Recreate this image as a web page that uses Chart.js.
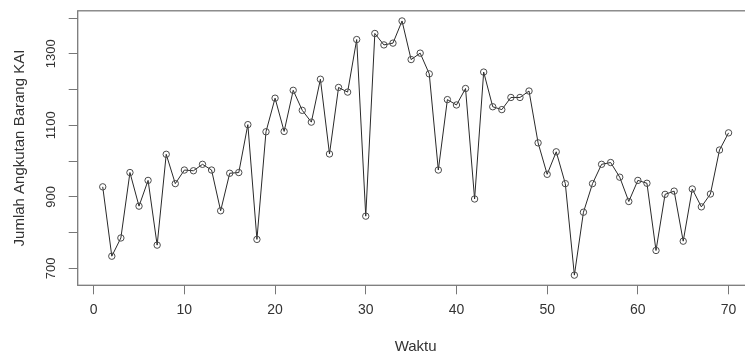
<!DOCTYPE html>
<html>
<head>
<meta charset="utf-8">
<script src="https://cdn.jsdelivr.net/npm/chart.js@4.4.1/dist/chart.umd.min.js"></script>
<style>
  html, body { margin: 0; padding: 0; background: #ffffff; overflow: hidden; }
  #wrap { width: 760px; height: 358px; }
</style>
</head>
<body>
<div id="wrap"><canvas id="c" width="760" height="358"></canvas></div>
<script>
const waktu = [1,2,3,4,5,6,7,8,9,10,11,12,13,14,15,16,17,18,19,20,
  21,22,23,24,25,26,27,28,29,30,31,32,33,34,35,36,37,38,39,40,
  41,42,43,44,45,46,47,48,49,50,51,52,53,54,55,56,57,58,59,60,
  61,62,63,64,65,66,67,68,69,70];
const jumlahAngkutan = [928,734,785,968,874,946,765,1019,937,975,
  973,991,975,861,966,968,1102,781,1082,1176,
  1083,1198,1142,1109,1229,1020,1206,1193,1340,846,
  1357,1325,1330,1392,1284,1302,1244,975,1172,1157,
  1203,894,1249,1152,1144,1178,1178,1196,1051,963,
  1026,937,681,857,937,991,996,955,887,946,
  938,750,907,916,776,922,872,908,1031,1079];
const xTickValues = [0,10,20,30,40,50,60,70];
const xTickLabels = ['0','10','20','30','40','50','60','70'];
const yTickValues = [700,800,900,1000,1100,1200,1300,1400];
const yTickLabels = ['700','','900','','1100','','1300',''];
const xTitle = 'Waktu';
const yTitle = 'Jumlah Angkutan Barang KAI';

const points = waktu.map((w, i) => ({x: w, y: jumlahAngkutan[i]}));

const boxPlugin = {
  id: 'box',
  afterDraw(chart) {
    const {ctx, chartArea: a} = chart;
    ctx.save();
    ctx.strokeStyle = '#7a7a7a';
    ctx.lineWidth = 1.3;
    ctx.strokeRect(a.left, a.top, a.right - a.left, a.bottom - a.top);
    ctx.restore();
  }
};

new Chart(document.getElementById('c'), {
  type: 'line',
  data: {
    datasets: [{
      data: points,
      borderColor: '#2a2a2a',
      borderWidth: 1,
      pointRadius: 3.2,
      pointBorderWidth: 1,
      pointBorderColor: '#4a4a4a',
      pointBackgroundColor: 'rgba(0,0,0,0)',
      tension: 0,
      fill: false
    }]
  },
  options: {
    responsive: false,
    animation: false,
    layout: { padding: { top: 10.4, right: 6.4, left: 0, bottom: 0 } },
    plugins: { legend: { display: false }, tooltip: { enabled: false } },
    scales: {
      x: {
        type: 'linear',
        min: -1.76,
        max: 72.76,
        afterBuildTicks: s => { s.ticks = xTickValues.map(v => ({value: v})); },
        afterFit: s => { s.height = 72.7; },
        ticks: {
          callback: (v) => xTickLabels[xTickValues.indexOf(v)],
          color: '#333',
          font: { family: 'Liberation Sans, Arial, sans-serif', size: 14 },
          padding: 7,
          maxRotation: 0,
          autoSkip: false
        },
        grid: { drawOnChartArea: false, drawTicks: true, tickLength: 9, color: '#777', tickWidth: 1 },
        border: { display: false },
        title: {
          display: true,
          text: xTitle,
          color: '#333',
          font: { family: 'Liberation Sans, Arial, sans-serif', size: 15, lineHeight: 1 },
          padding: { top: 0, bottom: 3.8 }
        }
      },
      y: {
        type: 'linear',
        min: 652.6,
        max: 1420.4,
        afterBuildTicks: s => { s.ticks = yTickValues.map(v => ({value: v})); },
        afterFit: s => { s.width = 77.7; },
        ticks: {
          callback: (v) => yTickLabels[yTickValues.indexOf(v)],
          color: '#333',
          font: { family: 'Liberation Sans, Arial, sans-serif', size: 13 },
          minRotation: 90,
          maxRotation: 90,
          crossAlign: 'center',
          padding: 3,
          autoSkip: false
        },
        grid: { drawOnChartArea: false, drawTicks: true, tickLength: 9, color: '#777', tickWidth: 1 },
        border: { display: false },
        title: {
          display: true,
          text: yTitle,
          color: '#333',
          font: { family: 'Liberation Sans, Arial, sans-serif', size: 15, lineHeight: 1 },
          padding: { top: 12.5, bottom: 0 }
        }
      }
    }
  },
  plugins: [boxPlugin]
});
</script>
</body>
</html>
